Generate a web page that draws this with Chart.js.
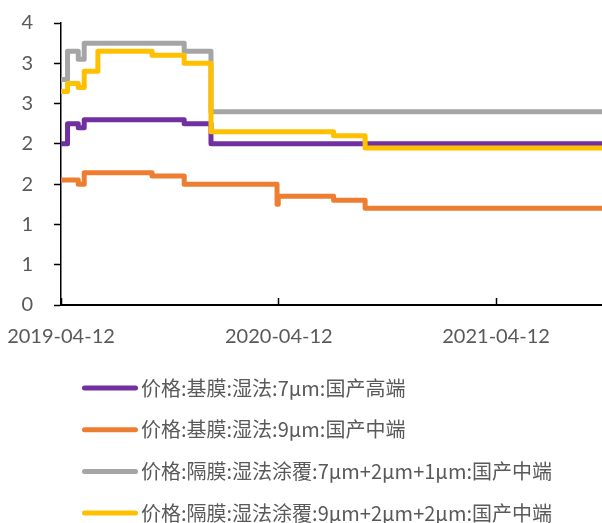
<!DOCTYPE html>
<html>
<head>
<meta charset="utf-8">
<script src="https://cdn.jsdelivr.net/npm/chart.js@4.4.0/dist/chart.umd.min.js"></script>
<style>
  html, body { margin: 0; padding: 0; background: #fff; overflow: hidden; }
  #wrap { position: relative; width: 602px; height: 523px; }
</style>
</head>
<body>
<div id="wrap"><canvas id="c" width="602" height="523"></canvas></div>
<script>
// Weekly separator prices, stored as change points: each value holds until the next date.
const START_DATE = '2019-04-12';
const END_DATE = '2021-10-07';

const xTickDates = ['2019-04-12', '2020-04-12', '2021-04-12'];
const yTickValues = [0, 0.5, 1, 1.5, 2, 2.5, 3, 3.5];

const seriesNames = [
  '价格:基膜:湿法:7μm:国产高端',
  '价格:基膜:湿法:9μm:国产中端',
  '价格:隔膜:湿法涂覆:7μm+2μm+1μm:国产中端',
  '价格:隔膜:湿法涂覆:9μm+2μm+2μm:国产中端'
];

const base7Dates  = ['2019-04-12', '2019-04-23', '2019-05-11', '2019-05-21', '2019-11-05', '2019-12-20', END_DATE];
const base7Values = [2.0, 2.25, 2.2, 2.3, 2.25, 2.0, 2.0];

const base9Dates  = ['2019-04-12', '2019-05-11', '2019-05-21', '2019-09-12', '2019-11-05', '2020-04-09', '2020-04-11', '2020-07-13', '2020-09-04', END_DATE];
const base9Values = [1.55, 1.5, 1.64, 1.6, 1.5, 1.25, 1.35, 1.3, 1.2, 1.2];

const coat7Dates  = ['2019-04-12', '2019-04-23', '2019-05-11', '2019-05-21', '2019-11-05', '2019-12-20', END_DATE];
const coat7Values = [2.8, 3.15, 3.05, 3.25, 3.15, 2.4, 2.4];

const coat9Dates  = ['2019-04-12', '2019-04-23', '2019-05-11', '2019-05-21', '2019-06-13', '2019-09-12', '2019-11-05', '2019-12-20', '2020-07-13', '2020-09-04', END_DATE];
const coat9Values = [2.65, 2.75, 2.7, 2.9, 3.15, 3.1, 3.0, 2.15, 2.1, 1.95, 1.95];

const seriesColors = ['#7030A0', '#ED7D31', '#A5A5A5', '#FFC000'];

// days elapsed since the start date
function dayOf(s) {
  const [y, m, d] = s.split('-').map(Number);
  const [y0, m0, d0] = START_DATE.split('-').map(Number);
  return Math.round((Date.UTC(y, m - 1, d) - Date.UTC(y0, m0 - 1, d0)) / 86400000);
}
function toPoints(dates, values) {
  return dates.map((d, i) => ({ x: dayOf(d), y: values[i] }));
}

const seriesData = [
  toPoints(base7Dates, base7Values),
  toPoints(base9Dates, base9Values),
  toPoints(coat7Dates, coat7Values),
  toPoints(coat9Dates, coat9Values)
];

const tickLabelByDay = {};
xTickDates.forEach(d => { tickLabelByDay[dayOf(d)] = d; });

const TEXT = '#595959';
const AXIS_FONT = { family: 'Lato, "Noto Sans", sans-serif', size: 20 };

// Vertical legend under the plot, one row per series
const legendRows = {
  id: 'legendRows',
  afterDraw(chart, args, opts) {
    const ctx = chart.ctx;
    ctx.save();
    chart.data.datasets.forEach((ds, i) => {
      const y = opts.top + i * opts.rowGap;
      ctx.beginPath();
      ctx.lineWidth = 5;
      ctx.lineCap = 'round';
      ctx.strokeStyle = ds.borderColor;
      ctx.moveTo(opts.lineStart, y);
      ctx.lineTo(opts.lineEnd, y);
      ctx.stroke();
      ctx.fillStyle = TEXT;
      ctx.font = '20px "Noto Sans CJK SC", sans-serif';
      ctx.textBaseline = 'middle';
      ctx.textAlign = 'left';
      ctx.fillText(ds.label, opts.textX, y);
    });
    ctx.restore();
  }
};

new Chart(document.getElementById('c'), {
  type: 'line',
  data: {
    datasets: seriesNames.map((name, i) => ({
      label: name,
      data: seriesData[i],
      borderColor: seriesColors[i],
      backgroundColor: seriesColors[i],
      borderWidth: 5,
      borderJoinStyle: 'round',
      borderCapStyle: 'round',
      stepped: true,
      pointRadius: 0,
      fill: false,
      clip: 0,
      order: seriesNames.length - 1 - i
    }))
  },
  options: {
    responsive: false,
    animation: false,
    events: [],
    layout: { padding: { top: 23, right: 0, bottom: 178, left: 0 } },
    plugins: {
      legend: { display: false },
      tooltip: { enabled: false },
      legendRows: { top: 388, rowGap: 41.7, lineStart: 84.5, lineEnd: 135.5, textX: 141 }
    },
    scales: {
      x: {
        type: 'linear',
        min: 0,
        max: dayOf(END_DATE),
        afterBuildTicks(scale) {
          scale.ticks = xTickDates.map(d => ({ value: dayOf(d) }));
        },
        afterFit(scale) {
          scale.height = 40;
          scale.paddingLeft = 0;
          scale.paddingRight = 0;
        },
        ticks: {
          autoSkip: false,
          maxRotation: 0,
          color: TEXT,
          font: AXIS_FONT,
          padding: 27,
          callback: v => tickLabelByDay[v] || ''
        },
        grid: {
          drawOnChartArea: false,
          drawTicks: true,
          tickLength: -7,
          tickColor: '#000',
          tickWidth: 1.5
        },
        border: { display: true, color: '#000', width: 2 }
      },
      y: {
        min: 0,
        max: 3.5,
        afterBuildTicks(scale) {
          scale.ticks = yTickValues.map(v => ({ value: v }));
        },
        afterFit(scale) {
          scale.width = 61;
          scale.paddingTop = 0;
          scale.paddingBottom = 0;
        },
        ticks: {
          color: TEXT,
          font: AXIS_FONT,
          padding: 21,
          callback: v => String(Math.round(v))
        },
        grid: {
          drawOnChartArea: false,
          drawTicks: true,
          tickLength: 7,
          tickColor: '#000',
          tickWidth: 1.5
        },
        border: { display: true, color: '#000', width: 1.5 }
      }
    }
  },
  plugins: [legendRows]
});
</script>
</body>
</html>
